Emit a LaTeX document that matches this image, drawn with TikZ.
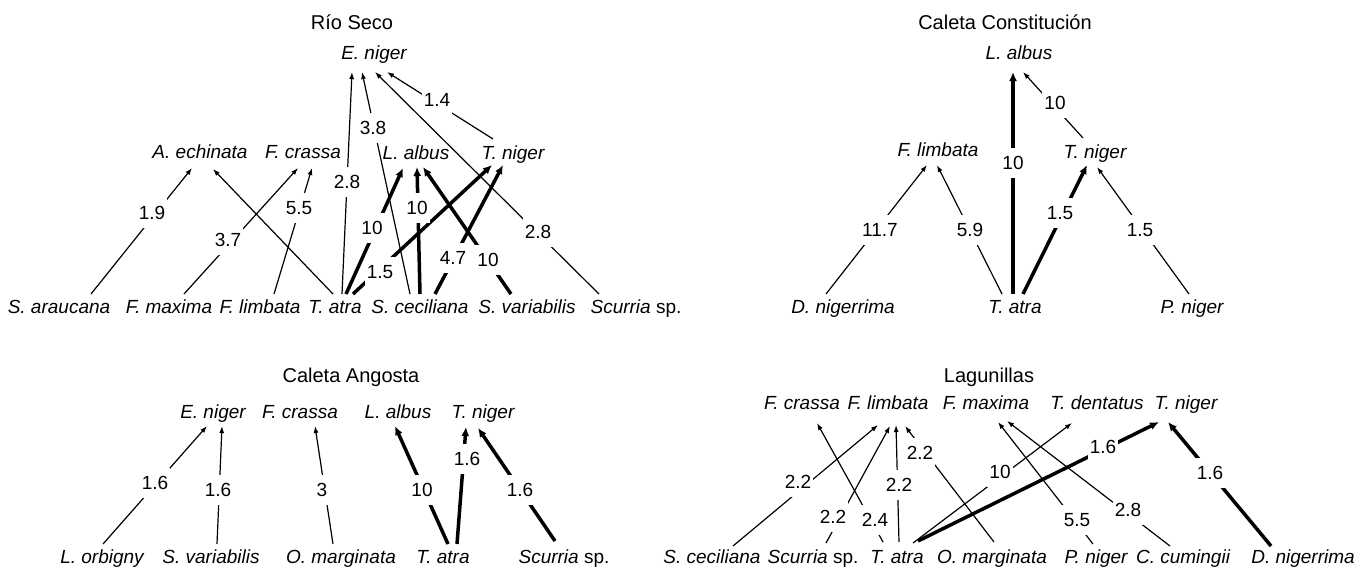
\documentclass[tikz,border=0pt]{standalone}
\usepackage{fontspec}
\setmainfont{Liberation Sans}
\usetikzlibrary{arrows.meta,calc}
\newcommand\myedge[5]{\draw[#1] ($(#2)+#3$) -- ($(#4)+#5$);}
\begin{document}
\begin{tikzpicture}[x=1pt,y=-1pt,
  sp/.style={font=\fontsize{19}{22}\selectfont\itshape, inner sep=0pt, text height=13.6pt, text depth=0pt},
  ttl/.style={font=\fontsize{20}{24}\selectfont, inner sep=0pt, text height=14.3pt, text depth=0pt},
  lbl/.style={font=\fontsize{19}{22}\selectfont, fill=white, inner xsep=2pt, inner ysep=8.5pt, text height=13.6pt, text depth=0pt},
  thinarr/.style={line width=1.2pt, -{Latex[length=7pt,width=5pt]}},
  thickarr/.style={line width=3.5pt, -{Latex[length=9pt,width=8pt]}}]
\useasboundingbox (0,0) rectangle (1372,568);
% ---------------- Rio Seco
\node[ttl] (rs-title) at (352,22) {Río Seco};
\node[sp] (rs-en) at (374,53) {E. niger};
\node[sp] (rs-ae) at (200,152) {A. echinata};
\node[sp] (rs-fc) at (303,152) {F. crassa};
\node[sp] (rs-la) at (416,153) {L. albus};
\node[sp] (rs-tn) at (513,153) {T. niger};
\node[sp] (rs-sa) at (59,307) {S. araucana};
\node[sp] (rs-fm) at (169,307) {F. maxima};
\node[sp] (rs-fl) at (260,307) {F. limbata};
\node[sp] (rs-ta) at (335,307) {T. atra};
\node[sp] (rs-sc) at (420,307) {S. ceciliana};
\node[sp] (rs-sv) at (527,307) {S. variabilis};
\node[sp] (rs-ss) at (636,307) {Scurria {\upshape sp.}};
\myedge{thinarr}{rs-sa}{(32,-13)}{rs-ae}{(-8,16)}
\myedge{thinarr}{rs-fm}{(15,-13)}{rs-fc}{(-5,16)}
\myedge{thinarr}{rs-fl}{(14,-13)}{rs-fc}{(9,16)}
\myedge{thinarr}{rs-ta}{(-2,-13)}{rs-ae}{(13,17)}
\myedge{thinarr}{rs-ta}{(7,-13)}{rs-en}{(-22,19)}
\myedge{thinarr}{rs-sc}{(-10,-13)}{rs-en}{(-12,19)}
\myedge{thinarr}{rs-tn}{(-20,-14)}{rs-en}{(13,19)}
\myedge{thinarr}{rs-ss}{(-37,-13)}{rs-en}{(1,19)}
\myedge{thickarr}{rs-ta}{(11,-13)}{rs-la}{(-13,15)}
\myedge{thickarr}{rs-sc}{(0,-13)}{rs-la}{(1,14)}
\myedge{thickarr}{rs-sv}{(-16,-13)}{rs-la}{(7,14)}
\myedge{thickarr}{rs-sc}{(15,-13)}{rs-tn}{(-10,12)}
\myedge{thickarr}{rs-ta}{(18,-13)}{rs-tn}{(-21,12)}
\node[lbl] (rs-l1) at (152,213) {1.9};
\node[lbl] (rs-l2) at (228,240) {3.7};
\node[lbl] (rs-l3) at (299,208) {5.5};
\node[lbl] (rs-l4) at (347,182) {2.8};
\node[lbl] (rs-l5) at (373,128) {3.8};
\node[lbl] (rs-l6) at (437,100) {1.4};
\node[lbl] (rs-l7) at (538,232) {2.8};
\node[lbl] (rs-l8) at (372,228) {10};
\node[lbl] (rs-l9) at (417,208) {10};
\node[lbl] (rs-l10) at (488,260) {10};
\node[lbl] (rs-l11) at (453,258) {4.7};
\node[lbl] (rs-l12) at (380,272) {1.5};
% ---------------- Caleta Constitucion
\node[ttl] (cc-title) at (1005,22) {Caleta Constitución};
\node[sp] (cc-la) at (1019,53) {L. albus};
\node[sp] (cc-fl) at (938,150) {F. limbata};
\node[sp] (cc-tn) at (1095,152) {T. niger};
\node[sp] (cc-dn) at (843,307) {D. nigerrima};
\node[sp] (cc-ta) at (1015,307) {T. atra};
\node[sp] (cc-pn) at (1192,307) {P. niger};
\myedge{thinarr}{cc-dn}{(-17,-13)}{cc-fl}{(-11,15)}
\myedge{thinarr}{cc-ta}{(-13,-13)}{cc-fl}{(-1,15)}
\myedge{thinarr}{cc-tn}{(-12,-14)}{cc-la}{(4,19)}
\myedge{thinarr}{cc-pn}{(-3,-13)}{cc-tn}{(2,15)}
\myedge{thickarr}{cc-ta}{(-2,-13)}{cc-la}{(-6,19)}
\myedge{thickarr}{cc-ta}{(8,-13)}{cc-tn}{(-8,13)}
\node[lbl] (cc-l1) at (880,230) {11.7};
\node[lbl] (cc-l2) at (970,230) {5.9};
\node[lbl] (cc-l3) at (1013,163) {10};
\node[lbl] (cc-l4) at (1055,103) {10};
\node[lbl] (cc-l5) at (1060,213) {1.5};
\node[lbl] (cc-l6) at (1140,230) {1.5};
% ---------------- Caleta Angosta
\node[ttl] (ca-title) at (351,375) {Caleta Angosta};
\node[sp] (ca-en) at (213,412) {E. niger};
\node[sp] (ca-fc) at (300,412) {F. crassa};
\node[sp] (ca-la) at (398,412) {L. albus};
\node[sp] (ca-tn) at (483,412) {T. niger};
\node[sp] (ca-lo) at (102,557) {L. orbigny};
\node[sp] (ca-sv) at (211,557) {S. variabilis};
\node[sp] (ca-om) at (341,557) {O. marginata};
\node[sp] (ca-ta) at (443,557) {T. atra};
\node[sp] (ca-ss) at (564,557) {Scurria {\upshape sp.}};
\myedge{thinarr}{ca-lo}{(1,-13)}{ca-en}{(-6,14)}
\myedge{thinarr}{ca-sv}{(6,-13)}{ca-en}{(9,14)}
\myedge{thinarr}{ca-om}{(-8,-13)}{ca-fc}{(15,14)}
\myedge{thickarr}{ca-ta}{(5,-13)}{ca-la}{(-3,14)}
\myedge{thickarr}{ca-ta}{(14,-13)}{ca-tn}{(-17,15)}
\myedge{thickarr}{ca-ss}{(-9,-16)}{ca-tn}{(-5,16)}
\node[lbl] (ca-l1) at (155,483) {1.6};
\node[lbl] (ca-l2) at (218,490) {1.6};
\node[lbl] (ca-l3) at (322,490) {3};
\node[lbl] (ca-l4) at (422,490) {10};
\node[lbl] (ca-l5) at (467,459) {1.6};
\node[lbl] (ca-l6) at (520,490) {1.6};
% ---------------- Lagunillas
\node[ttl] (lg-title) at (989,375) {Lagunillas};
\node[sp] (lg-fc) at (802,403) {F. crassa};
\node[sp] (lg-fl) at (888,403) {F. limbata};
\node[sp] (lg-fm) at (986,403) {F. maxima};
\node[sp] (lg-td) at (1097,403) {T. dentatus};
\node[sp] (lg-tn) at (1186,403) {T. niger};
\node[sp] (lg-sc) at (712,557) {S. ceciliana};
\node[sp] (lg-ss) at (813,557) {Scurria {\upshape sp.}};
\node[sp] (lg-ta) at (897,557) {T. atra};
\node[sp] (lg-om) at (992,557) {O. marginata};
\node[sp] (lg-pn) at (1096,557) {P. niger};
\node[sp] (lg-cc) at (1183,557) {C. cumingii};
\node[sp] (lg-dn) at (1303,557) {D. nigerrima};
\myedge{thinarr}{lg-sc}{(21,-11)}{lg-fl}{(-10,22)}
\myedge{thinarr}{lg-ss}{(13,-14)}{lg-fl}{(2,23)}
\myedge{thinarr}{lg-ta}{(2,-15)}{lg-fl}{(8,22)}
\myedge{thinarr}{lg-om}{(2,-15)}{lg-fl}{(17,23)}
\myedge{thinarr}{lg-ta}{(-14,-15)}{lg-fc}{(15,20)}
\myedge{thinarr}{lg-ta}{(16,-14)}{lg-td}{(-25,20)}
\myedge{thinarr}{lg-pn}{(-3,-13)}{lg-fm}{(12,19)}
\myedge{thinarr}{lg-cc}{(-13,-11)}{lg-fm}{(21,18)}
\myedge{thickarr}{lg-ta}{(21,-16)}{lg-tn}{(-27,19)}
\myedge{thickarr}{lg-dn}{(-32,-11)}{lg-tn}{(-18,19)}
\node[lbl] (lg-l1) at (798,482) {2.2};
\node[lbl] (lg-l2) at (833,517) {2.2};
\node[lbl] (lg-l3) at (899,485) {2.2};
\node[lbl] (lg-l4) at (920,453) {2.2};
\node[lbl] (lg-l5) at (875,520) {2.4};
\node[lbl] (lg-l6) at (1000,472) {10};
\node[lbl] (lg-l7) at (1103,447) {1.6};
\node[lbl] (lg-l8) at (1077,520) {5.5};
\node[lbl] (lg-l9) at (1128,510) {2.8};
\node[lbl] (lg-l10) at (1210,473) {1.6};
\end{tikzpicture}
\end{document}
